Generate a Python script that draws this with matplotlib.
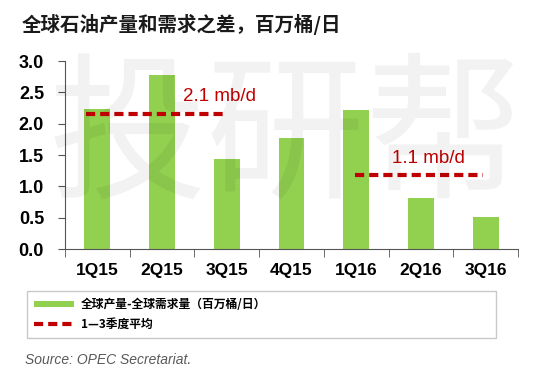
import matplotlib.pyplot as plt
from matplotlib.patches import Patch
from matplotlib.lines import Line2D

plt.rcParams['font.family'] = ['Liberation Sans', 'Noto Sans CJK SC', 'DejaVu Sans']

# data
quarters = ["1Q15", "2Q15", "3Q15", "4Q15", "1Q16", "2Q16", "3Q16"]
gap = [2.23, 2.78, 1.43, 1.78, 2.22, 0.81, 0.51]
avg_2015 = 2.15
avg_2016 = 1.18
avg_labels = ["2.1 mb/d", "1.1 mb/d"]

green = "#92D050"
red = "#C00000"

fig = plt.figure(figsize=(5.5, 3.75), dpi=100)
ax = fig.add_axes([0.118, 0.336, 0.824, 0.501])

x = list(range(len(quarters)))
ax.bar(x, gap, width=0.4, color=green, zorder=2)

# averages over 1-3 quarters
ax.plot([-0.18, 1.96], [avg_2015, avg_2015], color=red, lw=3, ls=(0, (2.2, 1.2)), zorder=3)
ax.plot([3.98, 5.96], [avg_2016, avg_2016], color=red, lw=3, ls=(0, (2.2, 1.2)), zorder=3)
ax.text(1.32, 2.44, avg_labels[0], color=red, fontsize=13.5, va='center', ha='left')
ax.text(4.55, 1.44, avg_labels[1], color=red, fontsize=13.5, va='center', ha='left')

ax.set_xlim(-0.5, len(quarters) - 0.5)
ax.set_ylim(0, 3.0)
ax.set_yticks([0, 0.5, 1.0, 1.5, 2.0, 2.5, 3.0])
ax.set_yticklabels([f"{v:.1f}" for v in ax.get_yticks()], fontsize=13, fontweight='bold')
ax.set_xticks(x)
ax.set_xticklabels(quarters, fontsize=12.5, fontweight='bold')
ax.tick_params(axis='x', length=0, pad=10)
ax.set_xticks([i - 0.5 for i in range(len(quarters) + 1)], minor=True)
ax.tick_params(axis='x', which='minor', length=6, direction='out', color='#555555')
ax.tick_params(axis='y', length=5, direction='out', color='#555555', pad=10)
for s in ['top', 'right']:
    ax.spines[s].set_visible(False)
ax.spines['left'].set_color('#555555')
ax.spines['bottom'].set_color('#555555')

# watermark
fig.text(0.52, 0.625, "投研帮", fontsize=114, color='black', alpha=0.05,
         ha='center', va='center', family=['Noto Sans CJK SC'])

fig.text(0.04, 0.935, "全球石油产量和需求之差，百万桶/日", fontsize=14, fontweight='bold',
         color='#1a1a1a', family=['Noto Sans CJK SC', 'DejaVu Sans'], va='center')

handles = [Patch(facecolor=green, edgecolor='none'),
           Line2D([0], [0], color=red, lw=3, ls=(0, (2.2, 1.2)))]
labels = ["全球产量-全球需求量（百万桶/日）", "1—3季度平均"]
leg = fig.legend(handles, labels, loc='upper left', bbox_to_anchor=(0.049, 0.08, 0.852, 0.144),
                 mode='expand', frameon=True, fancybox=False, handlelength=3.4,
                 handleheight=0.5,
                 prop={'family': ['Noto Sans CJK SC', 'DejaVu Sans'], 'size': 8.5, 'weight': 'bold'},
                 borderpad=0.6, labelspacing=0.55, handletextpad=0.6, borderaxespad=0)
leg.get_frame().set_edgecolor('#bbbbbb')
leg.get_frame().set_linewidth(1)

fig.text(0.045, 0.04, "Source: OPEC Secretariat.", fontsize=10, style='italic',
         color='#595959', va='center')

fig.savefig("out.png", dpi=100)
